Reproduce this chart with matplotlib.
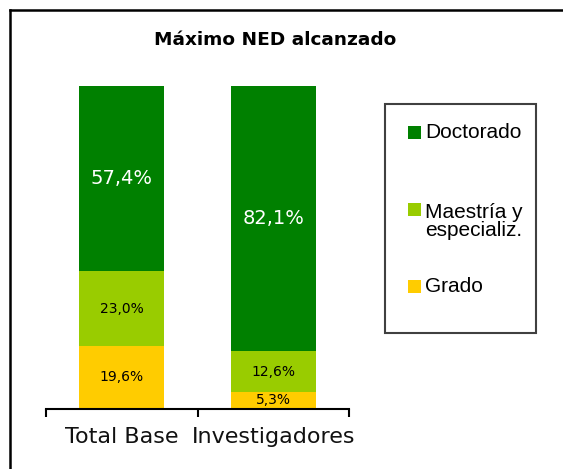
import numpy as np
import matplotlib
matplotlib.use('Agg')
import matplotlib.pyplot as plt
from matplotlib.patches import Rectangle
from matplotlib.lines import Line2D

# Data (percent)
categories = ['Total Base', 'Investigadores']
series_names = ['Grado', 'Maestría y\nespecializ.', 'Doctorado']
grado = [19.6, 5.3]
maestria = [23.0, 12.6]
doctorado = [57.4, 82.1]
colors = ['#FFCC00', '#99CC00', '#008000']

W, H = 563, 469


def fx(px):
    return px / W


def fy(py):
    return 1 - py / H


def fmt(v):
    return ('%.1f%%' % v).replace('.', ',')


fig = plt.figure(figsize=(W / 100, H / 100), dpi=100)
ax = fig.add_axes([fx(46), fy(409), fx(349) - fx(46), fy(86) - fy(409)])

x = np.arange(len(categories))
bottom = np.zeros(len(categories))
bars = []
for vals, col in zip([grado, maestria, doctorado], colors):
    b = ax.bar(x, vals, width=0.56, bottom=bottom, color=col, edgecolor='none')
    bars.append(b)
    bottom += np.array(vals)

ax.bar_label(bars[0], labels=[fmt(v) for v in grado], label_type='center',
             fontsize=10, color='black')
ax.bar_label(bars[1], labels=[fmt(v) for v in maestria], label_type='center',
             fontsize=10, color='black')
ax.bar_label(bars[2], labels=[fmt(v) for v in doctorado], label_type='center',
             fontsize=14, color='white')

ax.set_xlim(-0.5, 1.5)
ax.set_ylim(0, 100)
for s in ['top', 'right', 'left']:
    ax.spines[s].set_visible(False)
ax.spines['bottom'].set_linewidth(1.5)
ax.set_yticks([])
ax.set_xticks(x)
ax.set_xticklabels(categories, fontsize=16, color='#111111')
ax.tick_params(axis='x', which='major', length=0, pad=13)
ax.set_xticks([-0.5, 0.5, 1.5], minor=True)
ax.tick_params(axis='x', which='minor', length=5.5, width=1.5, direction='out')

# Title
fig.text(fx(275), fy(40), 'Máximo NED alcanzado', ha='center', va='center',
         fontsize=13.3, fontweight='bold')

# Legend box and entries
fig.add_artist(Rectangle((fx(385), fy(333)), fx(536) - fx(385), fy(104) - fy(333),
                         transform=fig.transFigure, fill=False,
                         edgecolor='#404040', linewidth=1.5))
legend_y = [286, 210, 133]
for name, col, ly in zip(series_names, colors, legend_y):
    fig.add_artist(Rectangle((fx(408), fy(ly + 6.5)), fx(13), 13 / H,
                             transform=fig.transFigure, facecolor=col,
                             edgecolor='none'))
    if '\n' in name:
        fig.text(fx(425), fy(ly - 7), name, ha='left', va='top', fontsize=15,
                 family='Liberation Sans', linespacing=0.9)
    else:
        fig.text(fx(425), fy(ly), name, ha='left', va='center', fontsize=15,
                 family='Liberation Sans')

# Outer chart frame (left and top edges visible)
fig.add_artist(Line2D([fx(10), fx(10)], [0, fy(10)], transform=fig.transFigure,
                      color='black', linewidth=1.8))
fig.add_artist(Line2D([fx(10), 1], [fy(10), fy(10)], transform=fig.transFigure,
                      color='black', linewidth=1.8))

fig.savefig('out.png', dpi=100)
